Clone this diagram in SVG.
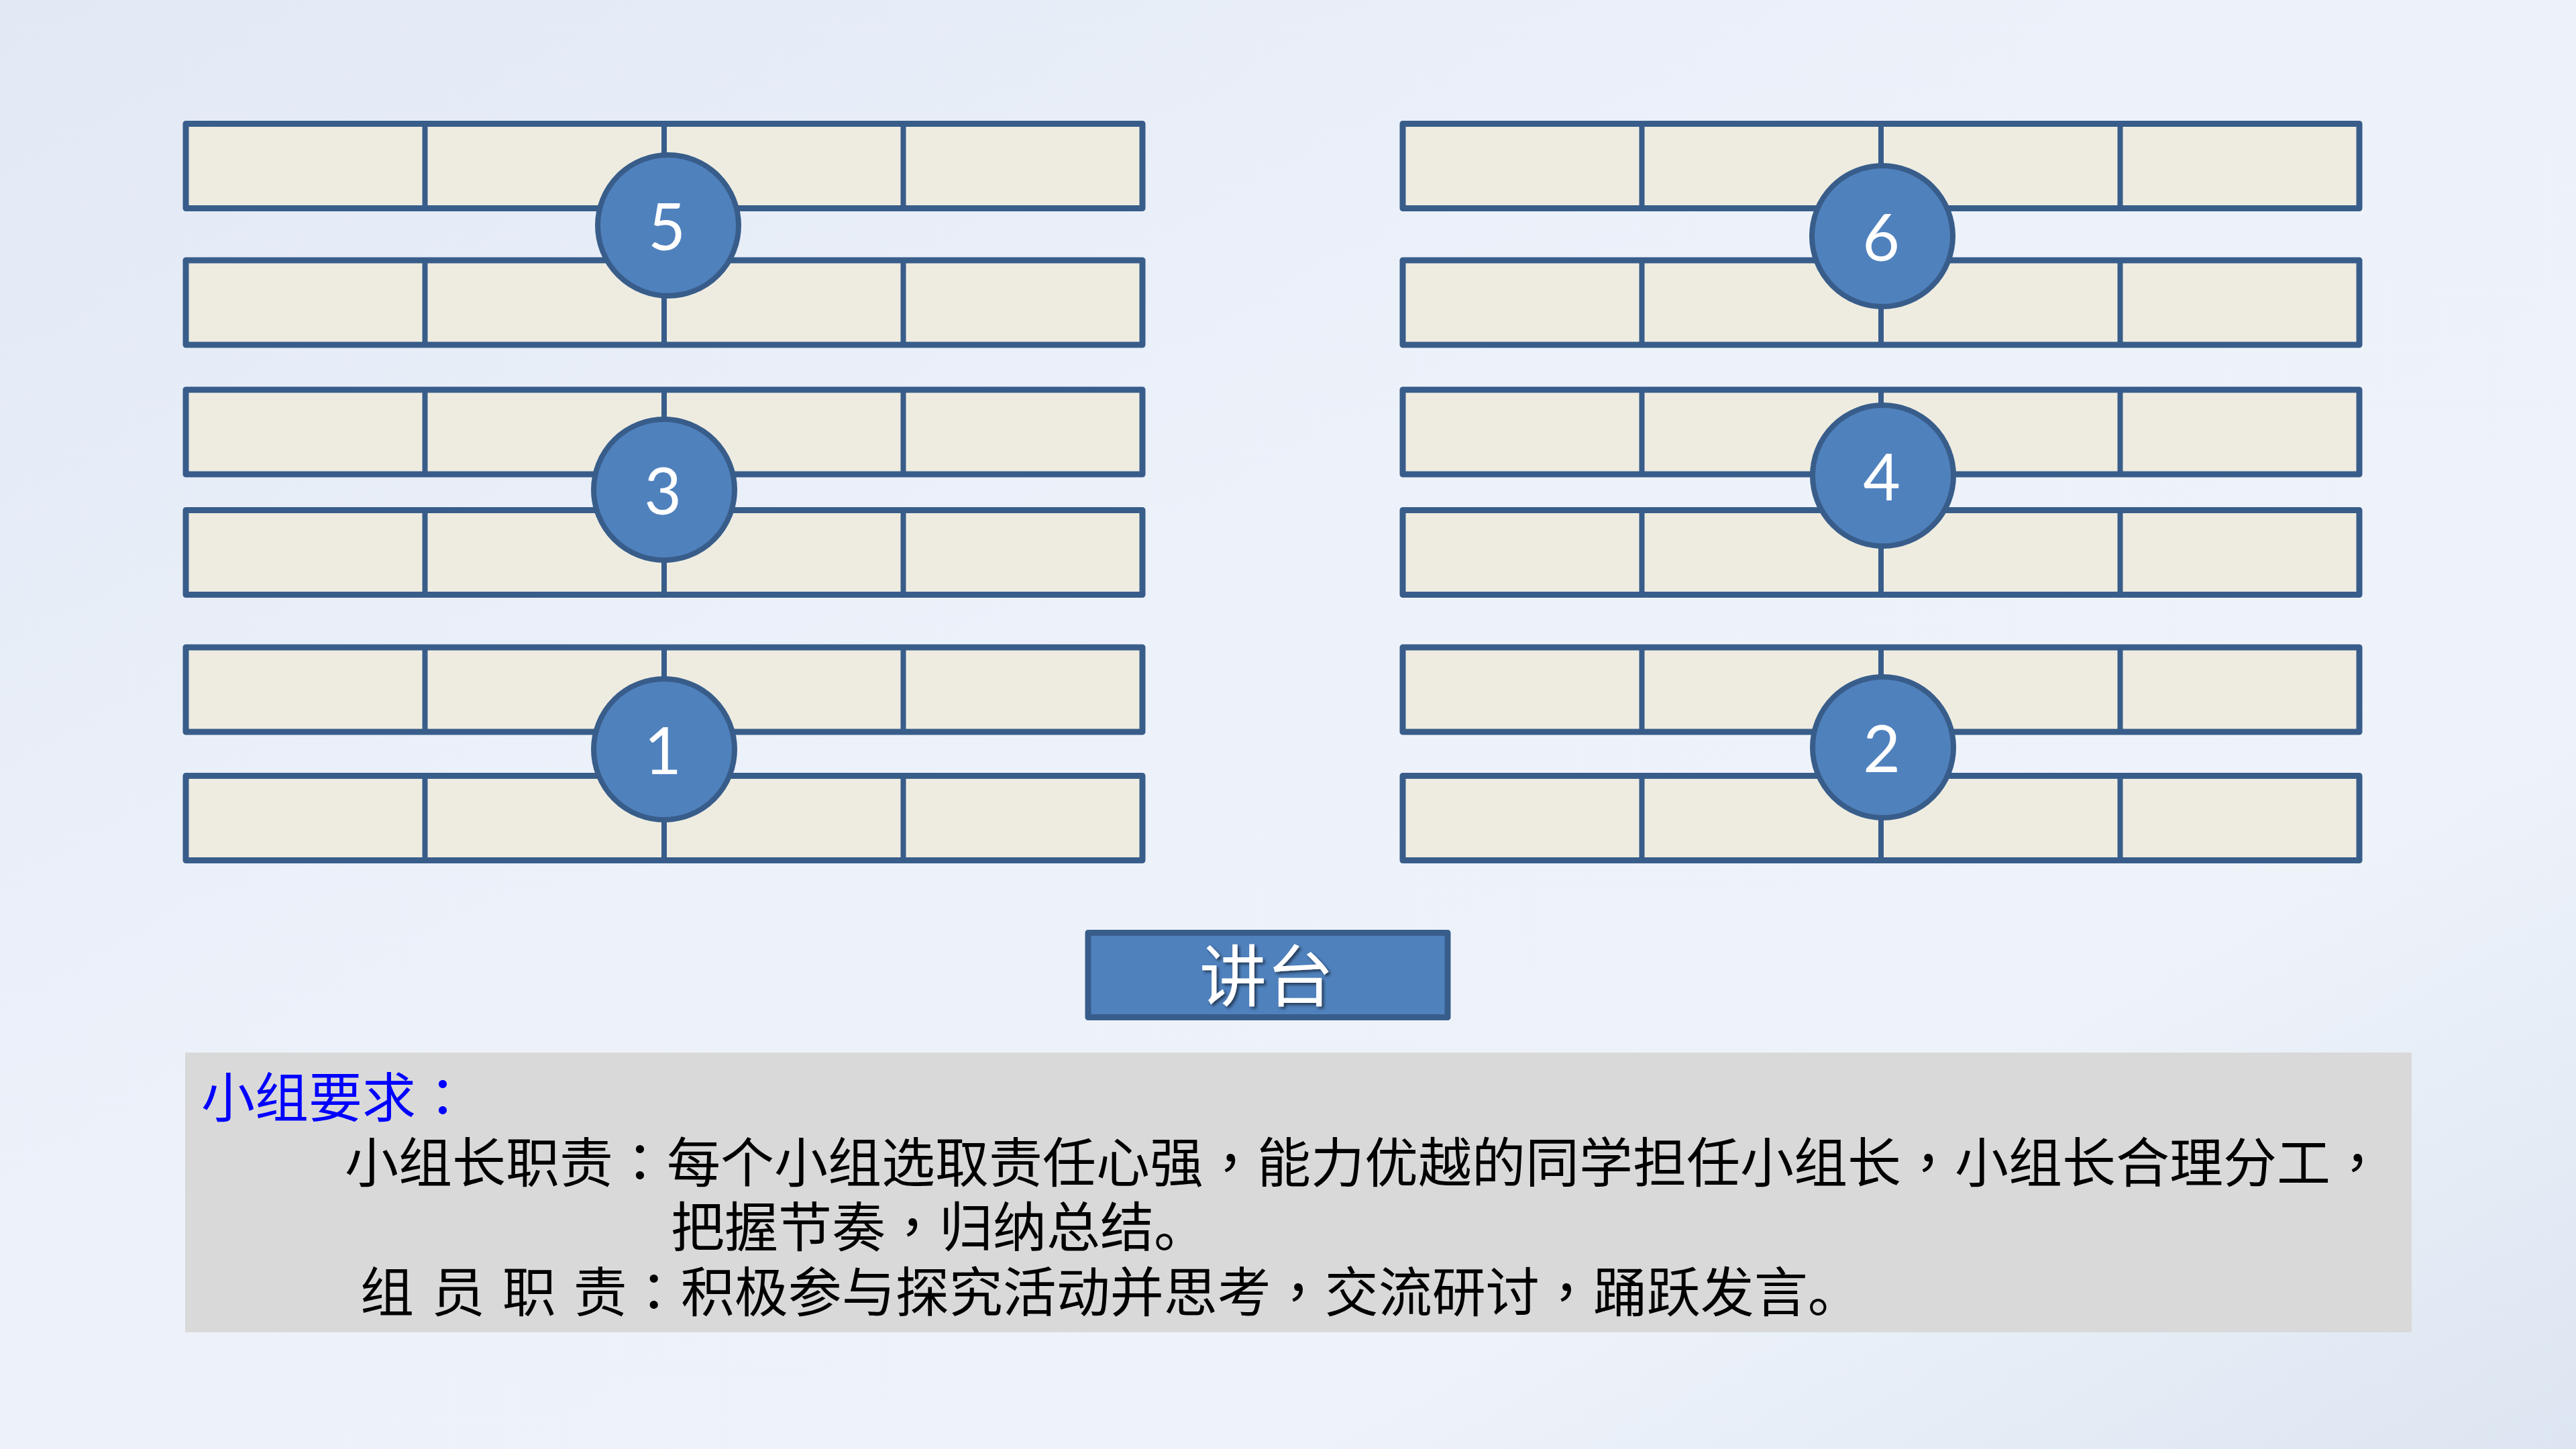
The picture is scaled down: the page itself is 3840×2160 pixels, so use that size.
<svg xmlns="http://www.w3.org/2000/svg" xmlns:xlink="http://www.w3.org/1999/xlink" width="3840" height="2160" viewBox="0 0 3840 2160">
  <style>
    .tbl { fill: #EEECE1; stroke: #385D8A; stroke-width: 9; stroke-linejoin: round; }
    .div { stroke: #385D8A; stroke-width: 8; }
    .seat { fill: #4F81BD; stroke: #385D8A; stroke-width: 8; }
    .num { font-family: Lato, "Open Sans", "Liberation Sans", sans-serif; font-size: 96px; fill: #FFFFFF; text-anchor: middle; }
    .body { font-family: "Noto Sans CJK SC", "Noto Sans", sans-serif; font-size: 80px; fill: #000000; }
    .p { font-family: "Noto Sans CJK TC", "Noto Sans CJK SC", sans-serif; }
  </style>
  <defs>
    <linearGradient id="bg" x1="0" y1="0" x2="1" y2="1">
      <stop offset="0" stop-color="#E2E9F5"/>
      <stop offset="0.45" stop-color="#EDF2FA"/>
      <stop offset="0.75" stop-color="#EEF3FA"/>
      <stop offset="1" stop-color="#DCE5F1"/>
    </linearGradient>
    <filter id="shadow" x="-20%" y="-20%" width="140%" height="140%">
      <feDropShadow dx="3" dy="3" stdDeviation="2" flood-color="#000000" flood-opacity="0.55"/>
    </filter>
    <g id="table">
      <rect class="tbl" x="0" y="0" width="1426" height="126"/>
      <line class="div" x1="356.5" y1="0" x2="356.5" y2="126"/>
      <line class="div" x1="713" y1="0" x2="713" y2="126"/>
      <line class="div" x1="1069.5" y1="0" x2="1069.5" y2="126"/>
    </g>
  </defs>

  <rect x="0" y="0" width="3840" height="2160" fill="url(#bg)"/>

  <!-- left column tables -->
  <g id="table-L1"><use xlink:href="#table" x="277" y="184.5"/></g>
  <g id="table-L2"><use xlink:href="#table" x="277" y="388"/></g>
  <g id="table-L3"><use xlink:href="#table" x="277" y="581"/></g>
  <g id="table-L4"><use xlink:href="#table" x="277" y="760.5"/></g>
  <g id="table-L5"><use xlink:href="#table" x="277" y="965"/></g>
  <g id="table-L6"><use xlink:href="#table" x="277" y="1156.5"/></g>

  <!-- right column tables -->
  <g id="table-R1"><use xlink:href="#table" x="2091" y="184.5"/></g>
  <g id="table-R2"><use xlink:href="#table" x="2091" y="388"/></g>
  <g id="table-R3"><use xlink:href="#table" x="2091" y="581"/></g>
  <g id="table-R4"><use xlink:href="#table" x="2091" y="760.5"/></g>
  <g id="table-R5"><use xlink:href="#table" x="2091" y="965"/></g>
  <g id="table-R6"><use xlink:href="#table" x="2091" y="1156.5"/></g>

  <!-- group number badges -->
  <g id="group-5">
    <circle class="seat" cx="996" cy="336" r="105"/>
    <text class="num" x="994" y="373">5</text>
  </g>
  <g id="group-3">
    <circle class="seat" cx="990" cy="730" r="105"/>
    <text class="num" x="988" y="767">3</text>
  </g>
  <g id="group-1">
    <circle class="seat" cx="990" cy="1117" r="105"/>
    <text class="num" x="988" y="1154">1</text>
  </g>
  <g id="group-6">
    <circle class="seat" cx="2806" cy="352" r="105"/>
    <text class="num" x="2804" y="389">6</text>
  </g>
  <g id="group-4">
    <circle class="seat" cx="2807" cy="709" r="105"/>
    <text class="num" x="2805" y="746">4</text>
  </g>
  <g id="group-2">
    <circle class="seat" cx="2807" cy="1114" r="105"/>
    <text class="num" x="2805" y="1151">2</text>
  </g>

  <!-- lectern -->
  <g id="lectern">
    <rect x="1622" y="1390.5" width="536" height="126" fill="#4F81BD" stroke="#385D8A" stroke-width="9" stroke-linejoin="round"/>
    <text x="1888" y="1492" font-family="'Noto Sans CJK SC', sans-serif" font-size="100" fill="#FFFFFF" text-anchor="middle" filter="url(#shadow)">讲台</text>
  </g>

  <!-- requirements box -->
  <g id="requirements">
    <rect x="276" y="1569" width="3319" height="417" fill="#D9D9D9"/>
    <text x="300" y="1665" font-family="'Noto Sans CJK SC', sans-serif" font-size="80" fill="#0000FF">小组要求<tspan class="p">：</tspan></text>
    <text class="body" x="514" y="1762">小组长职责<tspan class="p">：</tspan>每个小组选取责任心强<tspan class="p">，</tspan>能力优越的同学担任小组长<tspan class="p">，</tspan>小组长合理分工<tspan class="p">，</tspan></text>
    <text class="body" x="1000" y="1858">把握节奏<tspan class="p">，</tspan>归纳总结。</text>
    <text class="body" x="537" y="1955" word-spacing="8">组 员 职 责<tspan class="p">：</tspan>积极参与探究活动并思考<tspan class="p">，</tspan>交流研讨<tspan class="p">，</tspan>踊跃发言。</text>
  </g>
</svg>
